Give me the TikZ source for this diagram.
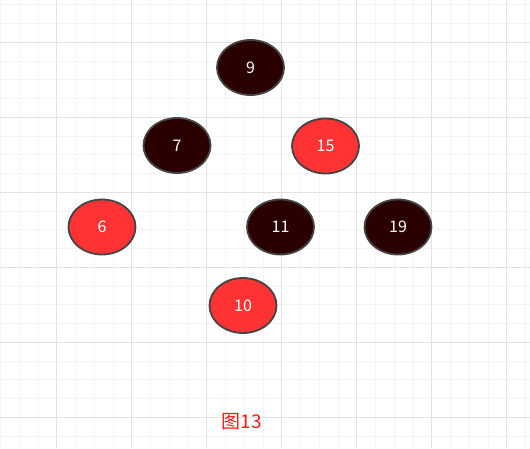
\documentclass[tikz,border=0pt]{standalone}
\usepackage{fontspec}
\setmainfont{Noto Sans CJK SC}
\usetikzlibrary{shapes.geometric}
\definecolor{minorgrid}{HTML}{F4F4F4}
\definecolor{majorgrid}{HTML}{E2E2E2}
\definecolor{blk}{HTML}{2B0000}
\definecolor{rd}{HTML}{FF3333}
\definecolor{captionred}{HTML}{FF1A1A}
\definecolor{edge}{HTML}{444444}
\tikzset{
  rbnode/.style={ellipse, minimum width=67pt, minimum height=55pt, draw=edge, line width=1.8pt, text=white, font=\fontsize{16pt}{16pt}\selectfont, inner sep=0pt},
  blacknode/.style={rbnode, fill=blk},
  rednode/.style={rbnode, fill=rd},
}
\begin{document}
\begin{tikzpicture}[x=1pt,y=-1pt]
\useasboundingbox (0,0) rectangle (530,448);
\fill[white] (0,0) rectangle (530,448);
\foreach \i in {-3,...,25} {
  \draw[minorgrid, line width=0.8pt] ({56.7+18.75*\i},0) -- ({56.7+18.75*\i},448);
  \draw[minorgrid, line width=0.8pt] (0,{42.3+18.75*\i}) -- (530,{42.3+18.75*\i});
}
\foreach \i in {0,...,6} {
  \draw[majorgrid, line width=1pt] ({56.7+75*\i},0) -- ({56.7+75*\i},448);
  \draw[majorgrid, line width=1pt] (0,{42.3+75*\i}) -- (530,{42.3+75*\i});
}
\node[blacknode] (n9) at (250.5,67.5) {9};
\node[blacknode] (n7) at (177,145.5) {7};
\node[rednode] (n15) at (325.5,146) {15};
\node[rednode] (n6) at (102,227) {6};
\node[blacknode] (n11) at (280.5,227) {11};
\node[blacknode] (n19) at (398,227) {19};
\node[rednode] (n10) at (243,305.5) {10};
\node[text=captionred, font=\fontsize{19pt}{19pt}\selectfont, inner sep=0pt] (cap) at (242,422) {图13};
\end{tikzpicture}
\end{document}
